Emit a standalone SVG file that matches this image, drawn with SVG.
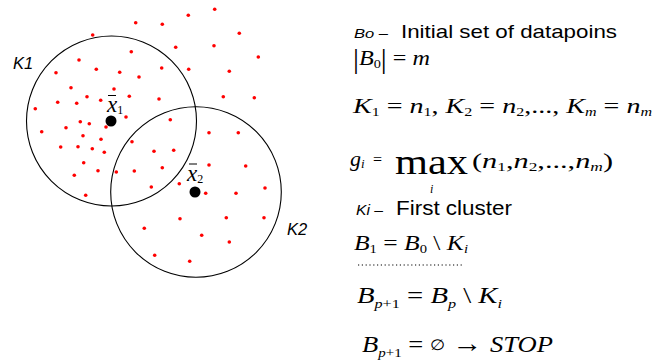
<svg xmlns="http://www.w3.org/2000/svg" width="661" height="361" viewBox="0 0 661 361">
<style>
.c{fill:none;stroke:#000;stroke-width:1.1}
.d{fill:#ff0000}
.ctr{fill:#000}
.bar{stroke:#000;stroke-width:1}
.s{font-family:"Liberation Sans",Arial,sans-serif;fill:#000}
.si{font-family:"Liberation Sans",Arial,sans-serif;font-style:italic;fill:#000}
.m{font-family:"Liberation Serif","Times New Roman",serif;font-style:italic;font-weight:normal;fill:#000}
.u{font-style:normal}
</style>
<rect width="661" height="361" fill="#fff"/>
<g id="cluster-K1">
<circle class="c" cx="111.5" cy="121" r="85"/>
<text class="si" x="13" y="69" font-size="16.5">K1</text>
</g>
<g id="cluster-K2">
<circle class="c" cx="196" cy="192" r="85.3"/>
<text class="si" x="287" y="235" font-size="16.5">K2</text>
</g>
<g id="datapoints">
<circle class="d" cx="214.7" cy="9.3" r="1.8"/>
<circle class="d" cx="188.3" cy="15.3" r="1.8"/>
<circle class="d" cx="135.7" cy="22.7" r="1.8"/>
<circle class="d" cx="162.3" cy="24.3" r="1.8"/>
<circle class="d" cx="239.3" cy="33.3" r="1.8"/>
<circle class="d" cx="92.7" cy="35" r="1.8"/>
<circle class="d" cx="214" cy="45.7" r="1.8"/>
<circle class="d" cx="175.7" cy="47.3" r="1.8"/>
<circle class="d" cx="131.3" cy="51.7" r="1.8"/>
<circle class="d" cx="258.3" cy="57" r="1.8"/>
<circle class="d" cx="79" cy="60" r="1.8"/>
<circle class="d" cx="161.7" cy="68" r="1.8"/>
<circle class="d" cx="188.7" cy="69.3" r="1.8"/>
<circle class="d" cx="96.3" cy="69.3" r="1.8"/>
<circle class="d" cx="56" cy="72.7" r="1.8"/>
<circle class="d" cx="119.7" cy="72.3" r="1.8"/>
<circle class="d" cx="229.3" cy="71.3" r="1.8"/>
<circle class="d" cx="139" cy="77" r="1.8"/>
<circle class="d" cx="71" cy="87.7" r="1.8"/>
<circle class="d" cx="114" cy="89" r="1.8"/>
<circle class="d" cx="87" cy="96.7" r="1.8"/>
<circle class="d" cx="129.3" cy="96.3" r="1.8"/>
<circle class="d" cx="223.3" cy="96.7" r="1.8"/>
<circle class="d" cx="254.3" cy="97.7" r="1.8"/>
<circle class="d" cx="100.7" cy="100.3" r="1.8"/>
<circle class="d" cx="159" cy="99" r="1.8"/>
<circle class="d" cx="57.7" cy="102.3" r="1.8"/>
<circle class="d" cx="76.7" cy="103.3" r="1.8"/>
<circle class="d" cx="35.3" cy="108.7" r="1.8"/>
<circle class="d" cx="126" cy="117" r="1.8"/>
<circle class="d" cx="170.3" cy="119.7" r="1.8"/>
<circle class="d" cx="80.3" cy="121.7" r="1.8"/>
<circle class="d" cx="89.3" cy="123.7" r="1.8"/>
<circle class="d" cx="106" cy="127" r="1.8"/>
<circle class="d" cx="66" cy="127.7" r="1.8"/>
<circle class="d" cx="41.7" cy="131.7" r="1.8"/>
<circle class="d" cx="209" cy="132.7" r="1.8"/>
<circle class="d" cx="238.3" cy="132.7" r="1.8"/>
<circle class="d" cx="83" cy="135.7" r="1.8"/>
<circle class="d" cx="101" cy="139.3" r="1.8"/>
<circle class="d" cx="132" cy="141.7" r="1.8"/>
<circle class="d" cx="60.7" cy="147" r="1.8"/>
<circle class="d" cx="78" cy="146.7" r="1.8"/>
<circle class="d" cx="92.3" cy="148.7" r="1.8"/>
<circle class="d" cx="154" cy="151.3" r="1.8"/>
<circle class="d" cx="173.7" cy="150.3" r="1.8"/>
<circle class="d" cx="104.3" cy="152.3" r="1.8"/>
<circle class="d" cx="83.7" cy="162.7" r="1.8"/>
<circle class="d" cx="209" cy="165" r="1.8"/>
<circle class="d" cx="245.7" cy="166" r="1.8"/>
<circle class="d" cx="162.3" cy="167.7" r="1.8"/>
<circle class="d" cx="98" cy="170.7" r="1.8"/>
<circle class="d" cx="116.3" cy="172" r="1.8"/>
<circle class="d" cx="134.3" cy="171" r="1.8"/>
<circle class="d" cx="74.3" cy="175.3" r="1.8"/>
<circle class="d" cx="151.3" cy="187" r="1.8"/>
<circle class="d" cx="179.3" cy="183.7" r="1.8"/>
<circle class="d" cx="205.7" cy="193.3" r="1.8"/>
<circle class="d" cx="236" cy="193.3" r="1.8"/>
<circle class="d" cx="265" cy="188" r="1.8"/>
<circle class="d" cx="85.7" cy="195.3" r="1.8"/>
<circle class="d" cx="180" cy="218.7" r="1.8"/>
<circle class="d" cx="226.3" cy="217.7" r="1.8"/>
<circle class="d" cx="264" cy="217.7" r="1.8"/>
<circle class="d" cx="144.3" cy="228.3" r="1.8"/>
<circle class="d" cx="201.7" cy="235.3" r="1.8"/>
<circle class="d" cx="229.3" cy="242" r="1.8"/>
<circle class="d" cx="154.7" cy="255.3" r="1.8"/>
<circle class="d" cx="189.7" cy="261.3" r="1.8"/>
</g>
<g id="centroid-1">
<circle class="ctr" cx="111" cy="121" r="5.5"/>
<line class="bar" x1="108" y1="95.5" x2="116" y2="95.5"/>
<text class="m" x="107" y="112" font-size="23">x<tspan class="u" font-size="12" y="114">1</tspan></text>
</g>
<g id="centroid-2">
<circle class="ctr" cx="195" cy="192" r="5.5"/>
<line class="bar" x1="189" y1="164" x2="197" y2="164"/>
<text class="m" x="187" y="180.5" font-size="23">x<tspan class="u" font-size="12" y="183">2</tspan></text>
</g>
<g id="equations">
<text class="si" x="354" y="37.5" font-size="13" textLength="34" lengthAdjust="spacingAndGlyphs">Bo –</text>
<text class="s" x="401" y="37.5" font-size="19" textLength="216" lengthAdjust="spacingAndGlyphs">Initial set of datapoins</text>
<text class="m" x="353" y="65" font-size="22" textLength="77" lengthAdjust="spacingAndGlyphs"><tspan class="u" font-size="27" y="68">|</tspan><tspan y="65">B</tspan><tspan class="u" font-size="13" y="68">0</tspan><tspan class="u" font-size="27" y="68">|</tspan><tspan class="u" y="65"> = </tspan><tspan y="65">m</tspan></text>
<text class="m" x="353" y="113" font-size="21" textLength="299" lengthAdjust="spacingAndGlyphs">K<tspan class="u" font-size="12" y="116">1</tspan><tspan class="u" y="113"> = </tspan><tspan y="113">n</tspan><tspan class="u" font-size="12" y="116">1</tspan><tspan class="u" y="113">, </tspan><tspan y="113">K</tspan><tspan class="u" font-size="12" y="116">2</tspan><tspan class="u" y="113"> = </tspan><tspan y="113">n</tspan><tspan class="u" font-size="12" y="116">2</tspan><tspan class="u" y="113">,..., </tspan><tspan y="113">K</tspan><tspan font-size="12" y="116">m</tspan><tspan class="u" y="113"> = </tspan><tspan y="113">n</tspan><tspan font-size="12" y="116">m</tspan></text>
<text class="m" x="350" y="166" font-size="22">g<tspan font-size="13" y="168">i</tspan></text>
<text class="m u" x="373" y="165" font-size="16">=</text>
<text class="m u" x="395" y="174" font-size="36" textLength="73" lengthAdjust="spacingAndGlyphs">max</text>
<text class="m" x="430" y="193" font-size="12">i</text>
<text class="m" x="472" y="168" font-size="21" textLength="141" lengthAdjust="spacingAndGlyphs"><tspan class="u">(</tspan><tspan y="168">n</tspan><tspan class="u" font-size="12" y="171">1</tspan><tspan class="u" y="168">,</tspan><tspan y="168">n</tspan><tspan class="u" font-size="12" y="171">2</tspan><tspan class="u" y="168">,...,</tspan><tspan y="168">n</tspan><tspan font-size="12" y="171">m</tspan><tspan class="u" y="168">)</tspan></text>
<text class="si" x="356" y="215" font-size="14" textLength="27" lengthAdjust="spacingAndGlyphs">Ki –</text>
<text class="s" x="396" y="215" font-size="19.5" textLength="116" lengthAdjust="spacingAndGlyphs">First cluster</text>
<text class="m" x="354" y="250" font-size="21" textLength="114" lengthAdjust="spacingAndGlyphs">B<tspan class="u" font-size="12" y="253">1</tspan><tspan class="u" y="250"> = </tspan><tspan y="250">B</tspan><tspan class="u" font-size="12" y="253">0</tspan><tspan class="u" y="250"> \ </tspan><tspan y="250">K</tspan><tspan font-size="12" y="253">i</tspan></text>
<line x1="358" y1="265" x2="462" y2="265" stroke="#000" stroke-width="1.2" stroke-dasharray="1.2 2.6"/>
<text class="m" x="357" y="303" font-size="23" textLength="145" lengthAdjust="spacingAndGlyphs">B<tspan font-size="13" y="308">p</tspan><tspan class="u" font-size="13" y="308">+1</tspan><tspan class="u" y="303"> = </tspan><tspan y="303">B</tspan><tspan font-size="13" y="308">p</tspan><tspan class="u" y="303"> \ </tspan><tspan y="303">K</tspan><tspan font-size="13" y="308">i</tspan></text>
<text class="m" x="362" y="352" font-size="23" textLength="191" lengthAdjust="spacingAndGlyphs">B<tspan font-size="13" y="357">p</tspan><tspan class="u" font-size="13" y="357">+1</tspan><tspan class="u" y="352"> = </tspan><tspan class="u" font-size="15" y="350">∅</tspan><tspan class="u" font-size="26" y="352"> → </tspan><tspan y="352">STOP</tspan></text>
</g>
</svg>
